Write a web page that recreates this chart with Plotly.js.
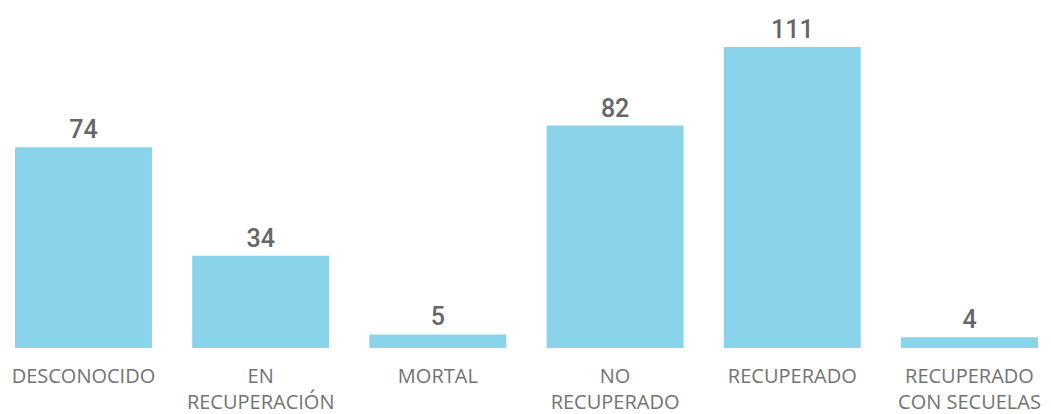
<!DOCTYPE html>
<html><head><meta charset="utf-8">
<script src="https://cdn.plot.ly/plotly-3.0.1.min.js"></script>
<style>html,body{margin:0;padding:0;background:#fff;}#chart{width:1051px;height:414px;}</style>
</head><body><div id="chart"></div>
<script>
const categories = ["DESCONOCIDO", "EN<br>RECUPERACIÓN", "MORTAL", "NO<br>RECUPERADO", "RECUPERADO", "RECUPERADO<br>CON SECUELAS"];
const values = [74, 34, 5, 82, 111, 4];

const trace = {
  type: 'bar',
  x: categories,
  y: values,
  marker: {color: '#89D4EB'},
  text: values.map(String),
  textposition: 'outside',
  cliponaxis: false,
  textfont: {family: 'Roboto', size: 25, color: '#666666', weight: 500},
  hoverinfo: 'none'
};

const layout = {
  width: 1051, height: 414,
  margin: {l: 0, r: 0, t: 0, b: 66},
  paper_bgcolor: '#ffffff', plot_bgcolor: '#ffffff',
  bargap: 0.227,
  showlegend: false,
  xaxis: {
    type: 'category',
    range: [-0.471, 5.46],
    showgrid: false, zeroline: false, showline: false,
    ticks: 'outside', ticklen: 10, tickcolor: 'rgba(0,0,0,0)',
    tickfont: {family: 'Open Sans', size: 20, color: '#737373'}
  },
  yaxis: {
    range: [0, 128.3],
    visible: false, showgrid: false, zeroline: false
  }
};

Plotly.newPlot('chart', [trace], layout, {displayModeBar: false, staticPlot: true});
</script></body></html>
